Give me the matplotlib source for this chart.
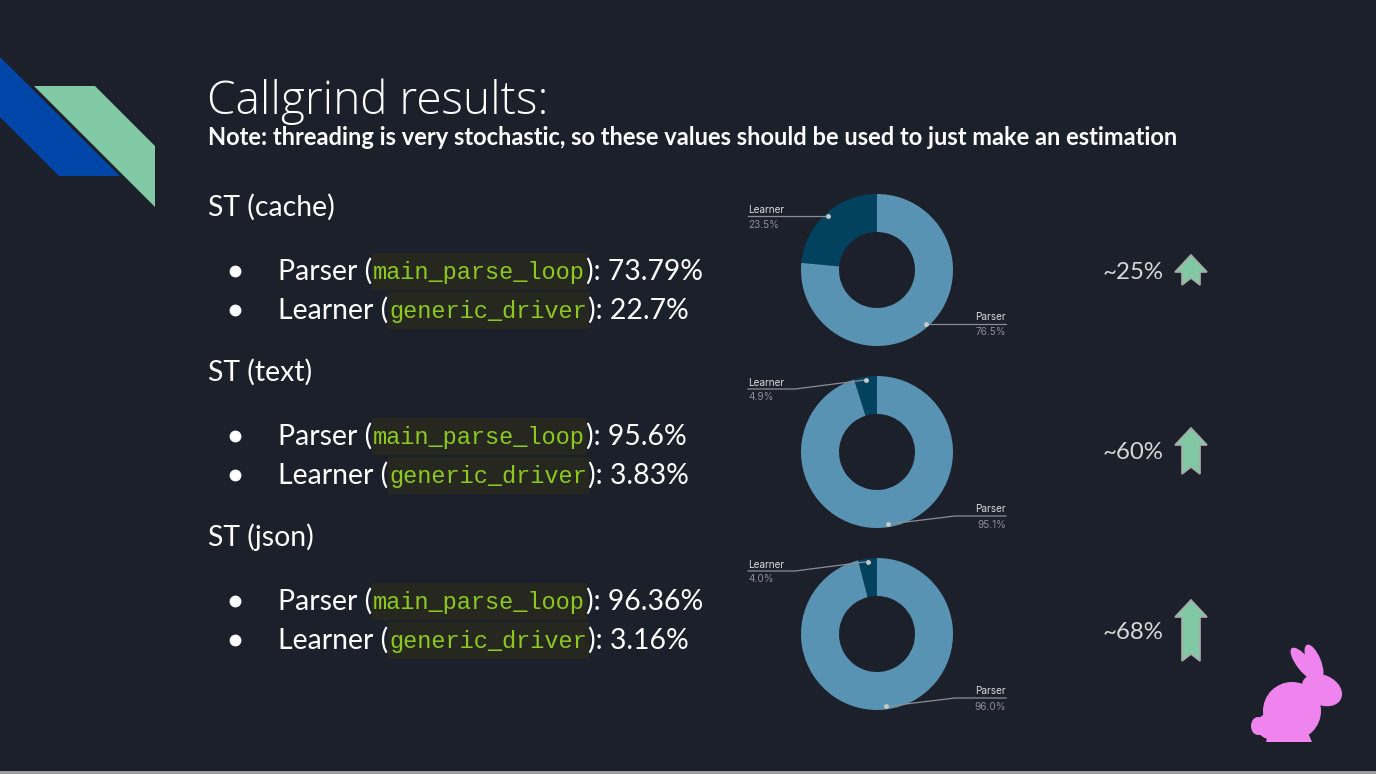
import matplotlib.pyplot as plt
from matplotlib.patches import Polygon, Ellipse, Rectangle
import numpy as np

W, H = 1376, 774
BG = '#1c202b'

# slide data
title = 'Callgrind results:'
note = 'Note: threading is very stochastic, so these values should be used to just make an estimation'
sections = ['ST (cache)', 'ST (text)', 'ST (json)']
parser_fn = 'main_parse_loop'
learner_fn = 'generic_driver'
parser_pct = ['73.79%', '95.6%', '96.36%']
learner_pct = ['22.7%', '3.83%', '3.16%']
donut_labels = ['Learner', 'Parser']
donut_learner = [23.5, 4.9, 4.0]
donut_parser = [76.5, 95.1, 96.0]
speedups = ['~25%', '~60%', '~68%']

# layout (pixels)
sec_y = [207, 372, 537]
row_gap = [64, 103]
donut_cy = [270, 452, 634]
donut_cx, R = 877, 76
speed_y = [271, 451, 631]
arrow_tip = [255, 428, 600]
arrow_bot = [285, 474, 661]

PARSER_C = '#5893b3'
LEARNER_C = '#02425f'
GREEN = '#81c9a5'

fig = plt.figure(figsize=(W / 100, H / 100), dpi=100, facecolor=BG)
ax = fig.add_axes([0, 0, 1, 1])
ax.set_xlim(0, W)
ax.set_ylim(H, 0)
ax.axis('off')
r = fig.canvas.get_renderer()

# decoration top-left
ax.add_patch(Polygon([(0, 57), (120, 176), (59, 176), (0, 117)], color='#0046a8', lw=0))
ax.add_patch(Polygon([(34, 86), (95, 86), (155, 146), (155, 207)], color=GREEN, lw=0))
ax.add_patch(Rectangle((0, 771), W, 3, color='#9c9c9c', lw=0))

ax.text(207, 114, title, fontsize=33, family='Open Sans', weight='light', color='white', va='baseline')
ax.text(208, 145, note, fontsize=17, family='Lato', weight='bold', color='white', va='baseline')

BODY = dict(fontsize=20.4, family='Lato', color='white', va='baseline')


def put(x, y, s, **kw):
    t = ax.text(x, y, s, **kw)
    return t.get_window_extent(r).x1


def code_line(y, name, fn, pct):
    ax.plot(235, y, 'o', ms=7.5, color='white')
    x = put(278, y + 9, name + ' (', **BODY)
    x0 = x
    x = put(x + 1, y + 8, fn, fontsize=17, family='Liberation Mono', color='#8cc81e', va='baseline', zorder=3)
    ax.add_patch(Rectangle((x0, y - 18), x - x0 + 2, 37, color='#26281f', lw=0, zorder=1))
    put(x + 1, y + 9, '): ' + pct, **BODY)


for i, sec in enumerate(sections):
    y = sec_y[i]
    ax.text(208, y + 9, sec, **BODY)
    code_line(y + row_gap[0], 'Parser', parser_fn, parser_pct[i])
    code_line(y + row_gap[1], 'Learner', learner_fn, learner_pct[i])

# donuts
top = fig.add_axes([0, 0, 1, 1], zorder=5)
top.set_xlim(0, W)
top.set_ylim(H, 0)
top.axis('off')
top.patch.set_alpha(0)

for i in range(3):
    cy = donut_cy[i]
    dax = fig.add_axes([(donut_cx - R) / W, 1 - (cy + R) / H, 2 * R / W, 2 * R / H], zorder=3)
    vals = [donut_learner[i], donut_parser[i]]
    wedges, _ = dax.pie(vals, colors=[LEARNER_C, PARSER_C], startangle=90, counterclock=True,
                        radius=1, wedgeprops=dict(width=0.5, lw=0))
    dax.set_xlim(-1, 1)
    dax.set_ylim(-1, 1)
    dax.axis('off')

    for w, lab, v in zip(wedges, donut_labels, vals):
        ang = np.deg2rad((w.theta1 + w.theta2) / 2)
        px = donut_cx + 0.96 * R * np.cos(ang)
        py = cy - 0.96 * R * np.sin(ang)
        if lab == 'Learner':
            ly = max(py, cy - 63)
            lx, ha = 748, 'left'
            pts = [(748, ly), (795, ly), (px, py)]
        else:
            ly = min(py, cy + 64)
            lx, ha = 1006, 'right'
            pts = [(px, py), (955, ly), (1006, ly)]
        xs, ys = zip(*pts)
        top.plot(xs, ys, color='#8a8d94', lw=0.9)
        top.plot(px, py, 'o', ms=2.5, color='#c8c8c8')
        top.text(lx, ly - 1.5, lab, fontsize=7.2, family='Inter', color='#dadada', ha=ha, va='bottom')
        top.text(lx, ly + 3.5, f'{v:.1f}%', fontsize=7.2, family='Inter', color='#8d8f95', ha=ha, va='top')

# speedup arrows
for i, s in enumerate(speedups):
    tip, bot = arrow_tip[i], arrow_bot[i]
    ax.text(1102, speed_y[i] + 8, s, fontsize=17.3, family='Lato', color='#d8d8d8', va='baseline')
    hb = tip + 17
    pts = [(1191, tip), (1207, hb), (1200, hb), (1200, bot), (1191, bot - 7),
           (1182, bot), (1182, hb), (1175, hb)]
    ax.add_patch(Polygon(pts, facecolor=GREEN, edgecolor='#a9aaa8', lw=1.2))

# rabbit
PINK = '#ef84ef'
for e in [Ellipse((1304, 664), 40, 14, angle=52), Ellipse((1314, 662), 37, 14, angle=68),
          Ellipse((1322, 690), 42, 30, angle=25), Ellipse((1292, 711), 58, 58),
          Ellipse((1278, 726), 44, 30), Ellipse((1258, 726), 14, 18)]:
    e.set_color(PINK)
    e.set_linewidth(0)
    ax.add_patch(e)
ax.add_patch(Polygon([(1266, 742), (1312, 742), (1306, 728), (1270, 728)], color=PINK, lw=0))

fig.savefig('out.png', dpi=100, facecolor=BG)
